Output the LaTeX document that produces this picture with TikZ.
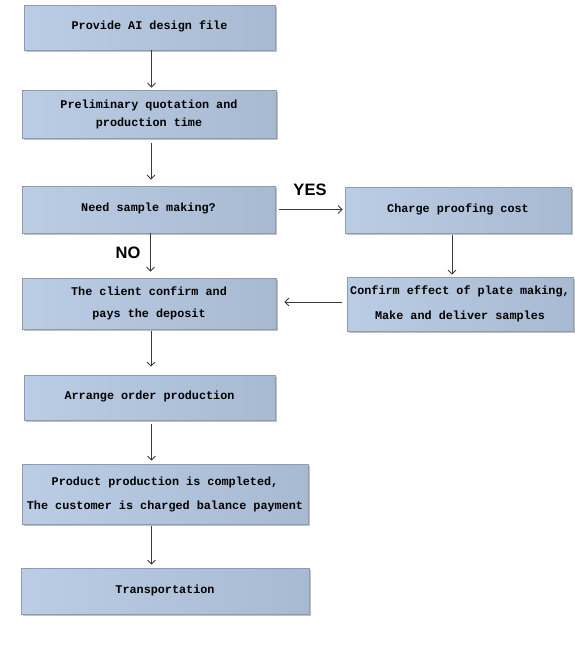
\documentclass[tikz,border=0pt]{standalone}
\usepackage{fontspec}
\setmonofont{Liberation Mono}
\newfontfamily\labelfont{Liberation Sans}
\usetikzlibrary{arrows.meta, positioning, shadows}
\definecolor{boxleft}{HTML}{BBCDE4}
\definecolor{boxright}{HTML}{A7BAD2}
\definecolor{boxline}{HTML}{8C9CB2}
\definecolor{flowline}{HTML}{3A3A3A}

\tikzset{
    stepbox/.style={draw=boxline, line width=0.8pt, left color=boxleft, right color=boxright,
        align=center, inner sep=2pt,
        font=\ttfamily\bfseries\fontsize{11.8}{22}\selectfont,
        drop shadow={shadow xshift=1.5pt, shadow yshift=-1.8pt, opacity=0.35, fill=black!70}},
    flow/.style={draw=flowline, line width=0.8pt, -{Straight Barb[length=4pt,width=8pt]},
        shorten <=3pt, shorten >=4pt},
    answer/.style={font=\labelfont\bfseries\fontsize{16.5}{18}\selectfont}
}

\begin{document}
\begin{tikzpicture}[x=1pt, y=-1pt]
    \useasboundingbox (0,0) rectangle (574,645);
    % Main column
    \node[stepbox, minimum width=251pt, minimum height=45pt, text depth=4pt] (design) at (149.5,27.5) {Provide AI design file};
    \node[stepbox, minimum width=254pt, minimum height=48pt, font=\ttfamily\bfseries\fontsize{11.8}{18}\selectfont] (quote) at (149,114) {Preliminary quotation and\\production time};
    \node[stepbox, minimum width=253pt, minimum height=47pt, text depth=4pt] (sample) at (148.5,209.5) {Need sample making?};
    \node[stepbox, minimum width=254pt, minimum height=51pt] (deposit) at (149,303.5) {The client confirm and\\pays the deposit};
    \node[stepbox, minimum width=251pt, minimum height=45pt, text depth=4pt] (arrange) at (149.5,397.5) {Arrange order production};
    \node[stepbox, minimum width=286pt, minimum height=60pt, font=\ttfamily\bfseries\fontsize{11.8}{24}\selectfont] (complete) at (165,494) {Product production is completed,\\The customer is charged balance payment};
    \node[stepbox, minimum width=288pt, minimum height=46pt, text depth=4pt] (transport) at (165,591) {Transportation};

    % Proofing branch
    \node[stepbox, minimum width=226pt, minimum height=46pt, text depth=4pt] (proofing) at (458,210) {Charge proofing cost};
    \node[stepbox, minimum width=226pt, minimum height=54pt, font=\ttfamily\bfseries\fontsize{11.8}{25}\selectfont] (confirm) at (460,304) {Confirm effect of plate making,\\Make and deliver samples};

    % Answers
    \node[answer] (yes) at (310,190) {YES};
    \node[answer] (no) at (128,253) {NO};

    % Connectors
    \draw[flow, shorten <=0pt, shorten >=2pt] ([xshift=2pt]design.south) -- ([xshift=2pt]design.south |- quote.north);
    \draw[flow, shorten <=5pt, shorten >=6pt] ([xshift=2pt]quote.south) -- ([xshift=2pt]quote.south |- sample.north);
    \draw[flow, shorten <=0pt, shorten >=6pt] ([xshift=2pt]sample.south) -- ([xshift=2pt]sample.south |- deposit.north);
    \draw[flow, shorten <=2pt, shorten >=8pt] ([xshift=2pt]deposit.south) -- ([xshift=2pt]deposit.south |- arrange.north);
    \draw[flow, shorten <=4pt, shorten >=3pt] ([xshift=2pt]arrange.south) -- ([xshift=2pt]arrange.south |- complete.north);
    \draw[flow, shorten <=2pt, shorten >=3pt] ([xshift=2pt]arrange.south |- complete.south) -- ([xshift=2pt]arrange.south |- transport.north);
    \draw[flow, shorten <=4pt, shorten >=2pt] (sample.east) -- (sample.east -| proofing.west);
    \draw[flow, shorten <=2pt, shorten >=2pt] ([xshift=-6pt]proofing.south) -- ([xshift=-6pt]proofing.south |- confirm.north);
    \draw[flow, shorten <=5pt, shorten >=8pt] ([yshift=2pt]confirm.west) -- ([yshift=2pt]confirm.west -| deposit.east);
\end{tikzpicture}
\end{document}
